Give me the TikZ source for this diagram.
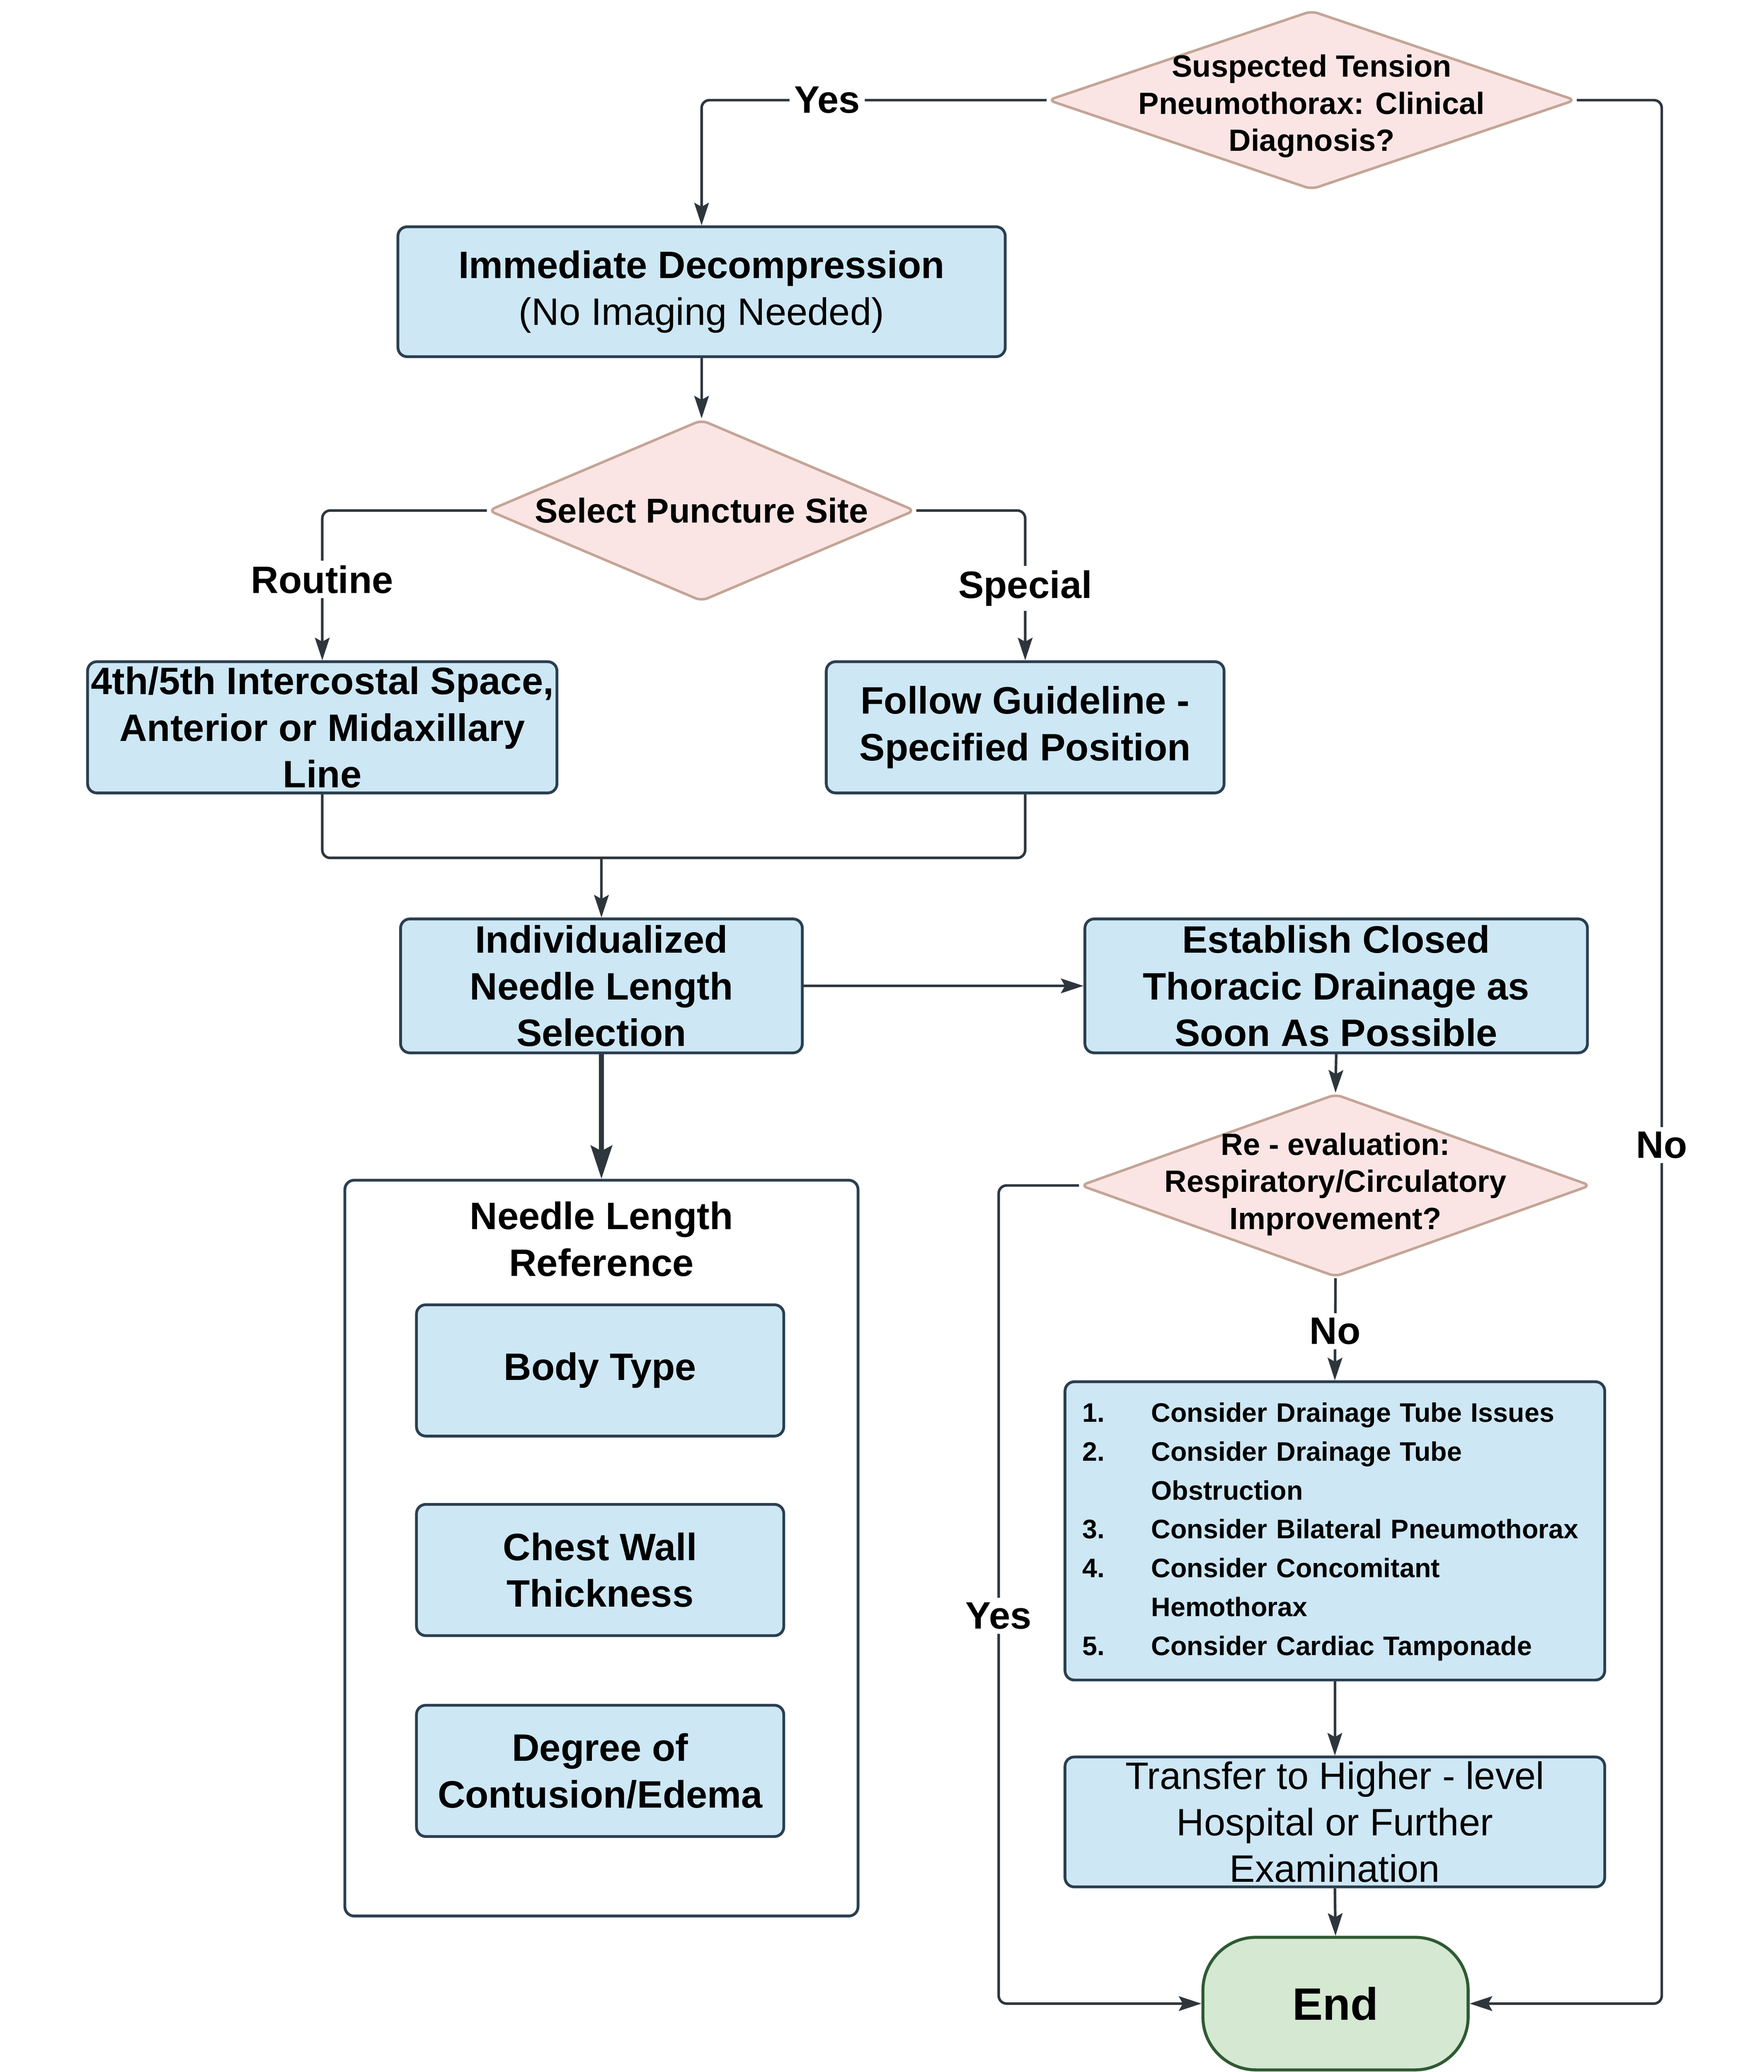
\documentclass[tikz,border=0pt]{standalone}
\usepackage{fontspec}
\setmainfont{Liberation Sans}
\usetikzlibrary{shapes.geometric,arrows.meta}
\definecolor{boxfill}{HTML}{CDE7F5}
\definecolor{boxline}{HTML}{2B3F50}
\definecolor{diafill}{HTML}{FBE5E4}
\definecolor{dialine}{HTML}{C4A597}
\definecolor{endfill}{HTML}{D4E8D2}
\definecolor{endline}{HTML}{2F5A33}
\definecolor{linecol}{HTML}{2E363D}
\newcommand\fsmain{\fontsize{16.4}{20}\selectfont}
\newcommand\fsdia{\fontsize{13.2}{15.9}\selectfont}
\newcommand\fsdiab{\fontsize{14.8}{17}\selectfont}
\newcommand\fslist{\fontsize{11.5}{16.67}\selectfont}
\newcommand\fsend{\fontsize{19.5}{23}\selectfont}
\begin{document}
\begin{tikzpicture}[x=0.02cm,y=-0.02cm,
  box/.style={draw=boxline, fill=boxfill, line width=1.2pt, rounded corners=0.14cm, inner sep=0pt, align=center, font=\fsmain\bfseries},
  dia/.style={diamond, draw=dialine, fill=diafill, line width=1.1pt, inner sep=0pt, rounded corners=0.1cm},
  dtext/.style={align=center, inner sep=0pt, font=\fsdia\bfseries},
  cont/.style={draw=boxline, fill=white, line width=1.2pt, rounded corners=0.14cm, inner sep=0pt},
  endn/.style={draw=endline, fill=endfill, line width=1.3pt, rounded corners=0.8cm, inner sep=0pt, font=\fsend\bfseries},
  conn/.style={draw=linecol, line width=1.1pt, rounded corners=0.12cm},
  arr/.style={conn, -{Stealth[length=0.34cm,width=0.22cm,inset=0.06cm]}},
  lab/.style={fill=white, inner sep=2pt, font=\fsmain\bfseries, text=black}]
\useasboundingbox[fill=white] (0,0) rectangle (1330,1562.6);
% nodes
\node[dia, minimum width=7.96cm, minimum height=2.7cm] (D1) at (989,75.5) {};
\node[dtext] (D1t) at (989,80) {Suspected Tension\\Pneumothorax: Clinical\\Diagnosis?};
\node[box, minimum width=9.16cm, minimum height=1.96cm] (B1) at (529,220) {Immediate Decompression\\{\mdseries (No Imaging Needed)}};
\node[dia, minimum width=6.44cm, minimum height=2.74cm] (D2) at (529,385) {};
\node[dtext, font=\fsdiab\bfseries] (D2t) at (529,385) {Select Puncture Site};
\node[box, minimum width=7.08cm, minimum height=1.98cm] (B2) at (243,548.5) {4th/5th Intercostal Space,\\Anterior or Midaxillary\\Line};
\node[box, minimum width=6cm, minimum height=1.98cm] (B3) at (773,548.5) {Follow Guideline -\\Specified Position};
\node[box, minimum width=6.06cm, minimum height=2.02cm] (B4) at (453.5,743.5) {Individualized\\Needle Length\\Selection};
\node[box, minimum width=7.58cm, minimum height=2.02cm] (B5) at (1007.5,743.5) {Establish Closed\\Thoracic Drainage as\\Soon As Possible};
\node[cont, minimum width=7.74cm, minimum height=11.1cm] (C) at (453.5,1167.5) {};
\node[align=center, inner sep=0pt, font=\fsmain\bfseries] (Ct) at (453.5,934.5) {Needle Length\\Reference};
\node[box, minimum width=5.54cm, minimum height=1.98cm] (N1) at (452.5,1033.5) {Body Type};
\node[box, minimum width=5.54cm, minimum height=1.98cm] (N2) at (452.5,1184) {Chest Wall\\Thickness};
\node[box, minimum width=5.54cm, minimum height=1.98cm] (N3) at (452.5,1335.5) {Degree of\\Contusion/Edema};
\node[dia, minimum width=7.7cm, minimum height=2.76cm] (D3) at (1007,894) {};
\node[dtext] (D3t) at (1007,893) {Re - evaluation:\\Respiratory/Circulatory\\Improvement?};
\node[box, minimum width=8.14cm, minimum height=4.5cm, align=left, inner xsep=0.26cm, text width=7.62cm, font=\fslist\bfseries] (L) at (1006.5,1154.5)
  {\begin{tabular}{@{}p{29.6pt}@{}l@{}}
   1. & Consider Drainage Tube Issues\\
   2. & Consider Drainage Tube\\
      & Obstruction\\
   3. & Consider Bilateral Pneumothorax\\
   4. & Consider Concomitant\\
      & Hemothorax\\
   5. & Consider Cardiac Tamponade
   \end{tabular}};
\node[box, minimum width=8.14cm, minimum height=1.96cm, font=\fsmain\mdseries] (T) at (1006.5,1374) {Transfer to Higher - level\\Hospital or Further\\Examination};
\node[endn, minimum width=4cm, minimum height=2cm] (E) at (1007,1511) {End};
% helper coordinates
\coordinate (mrow) at (0,647);
\coordinate (yesX) at (753,0);
\coordinate (noX) at (1253,0);
\coordinate (M) at (B4.north |- mrow);
% connectors
\draw[arr] (D1.west) -- node[lab,pos=0.636]{Yes} (B1.north |- D1.west) -- (B1.north);
\draw[arr] (B1.south) -- (D2.north);
\draw[arr] (D2.west) -| node[lab,pos=0.73]{Routine} (B2.north);
\draw[arr] (D2.east) -| node[lab,pos=0.76]{Special} (B3.north);
\draw[conn] (B2.south) |- (M);
\draw[conn] (B3.south) |- (M);
\draw[arr] (M) -- (B4.north);
\draw[arr] (B4.east) -- (B5.west);
\draw[draw=linecol, line width=2.2pt, -{Stealth[length=0.5cm,width=0.32cm,inset=0.08cm]}] (B4.south) -- (C.north);
\draw[arr] (B5.south) -- (D3.north);
\draw[arr] (D3.south) -- node[lab,pos=0.52]{No} (L.north);
\draw[arr] (D3.west) -- (D3.west -| yesX) -- node[lab,pos=0.526]{Yes} (yesX |- E.west) -- (E.west);
\draw[arr] (L.south) -- (T.north);
\draw[arr] (T.south) -- (E.north);
\draw[arr] (D1.east) -- (D1.east -| noX) -- node[lab,pos=0.549]{No} (noX |- E.east) -- (E.east);
\end{tikzpicture}
\end{document}
